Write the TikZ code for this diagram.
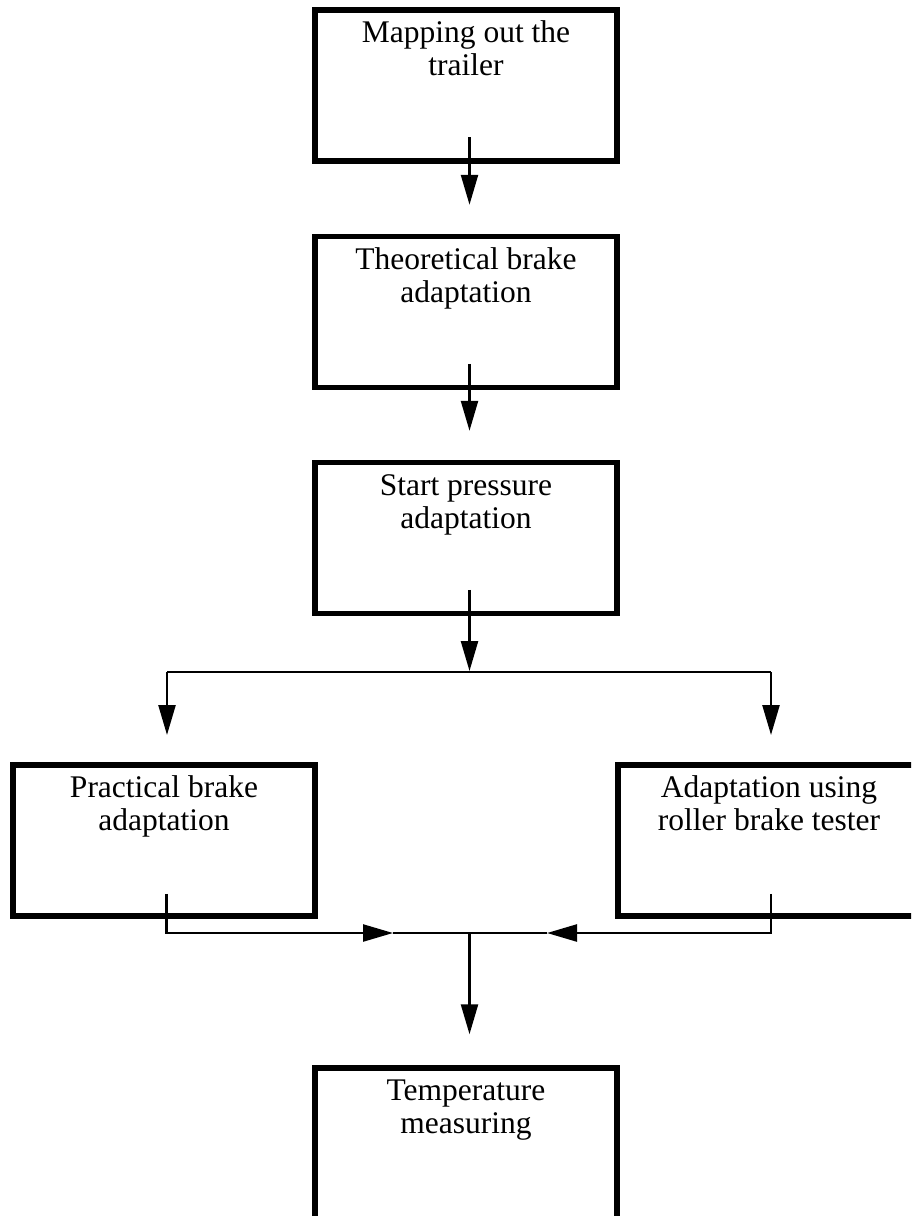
\documentclass[tikz,border=0pt]{standalone}
\usepackage{fontspec}
\setmainfont{Liberation Serif}
\usetikzlibrary{arrows.meta}
\tikzset{
  box/.style={draw, line width=5.5pt, minimum width=302pt, minimum height=151pt, inner sep=0pt, fill=none},
  lbl/.style={align=center, inner sep=0pt, anchor=north, font=\fontsize{31.5}{33}\selectfont},
  conn/.style={line width=2.4pt},
  arr/.style={conn, -{Triangle[length=30pt,width=17pt]}},
}
\begin{document}
\begin{tikzpicture}[x=1pt,y=1pt]
\useasboundingbox (0,0) rectangle (911,-1216);
\clip (0,0) rectangle (911,-1216);
% boxes
\node[box] (b1) at (466,-85.5) {};
\node[box] (b2) at (466,-312) {};
\node[box] (b3) at (466,-538) {};
\node[box] (bl) at (164,-840.5) {};
\node[box] (br) at (769,-840.5) {};
\node[box] (bb) at (466,-1143.5) {};
% texts
\node[lbl] (t1) at ([yshift=-12pt]b1.north) {\strut Mapping out the\\trailer};
\node[lbl] (t2) at ([yshift=-12pt]b2.north) {\strut Theoretical brake\\adaptation};
\node[lbl] (t3) at ([yshift=-12pt]b3.north) {\strut Start pressure\\adaptation};
\node[lbl] (tl) at ([yshift=-12pt]bl.north) {\strut Practical brake\\adaptation};
\node[lbl] (tr) at ([yshift=-12pt]br.north) {\strut Adaptation using\\roller brake tester};
\node[lbl] (tb) at ([yshift=-12pt]bb.north) {\strut Temperature\\measuring};
% junction coordinates
\coordinate (split) at (469.5,-672);
\coordinate (jl) at (167,-672);
\coordinate (jr) at (771,-672);
\coordinate (m) at (469.5,-933);
\coordinate (ml) at (393,-933);
\coordinate (mr) at (547,-933);
% connectors
\draw[arr] ([xshift=3.5pt,yshift=26.5pt]b1.south) -- ([xshift=3.5pt,yshift=29pt]b2.north);
\draw[arr] ([xshift=3.5pt,yshift=26.5pt]b2.south) -- ([xshift=3.5pt,yshift=29pt]b3.north);
\draw[arr] ([xshift=3.5pt,yshift=26.5pt]b3.south) -- ([yshift=1pt]split);
\draw[conn] (jl) -- (jr);
\draw[arr] (jl) -- (jl |- 0,-735);
\draw[arr] (jr) -- (jr |- 0,-735);
\draw[arr] ([xshift=2.5pt,yshift=25pt]bl.south) |- (ml);
\draw[arr] ([xshift=2pt,yshift=25pt]br.south) |- (mr);
\draw[conn] (ml) -- (mr);
\draw[arr] (m) -- ([xshift=3.5pt,yshift=31pt]bb.north);
\end{tikzpicture}
\end{document}
